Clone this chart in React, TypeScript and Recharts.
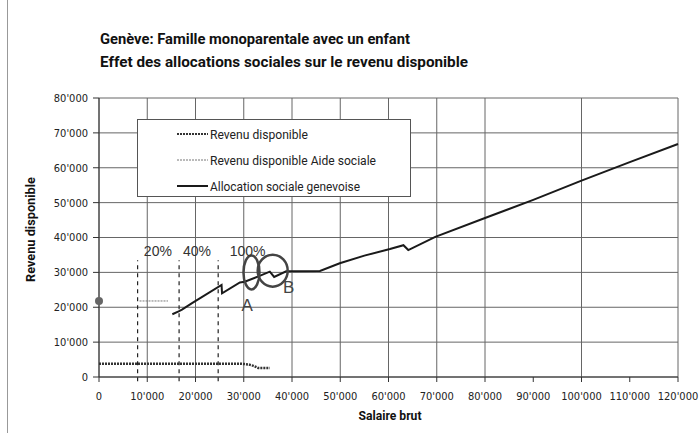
import React from "react";
import {
  LineChart,
  Line,
  XAxis,
  YAxis,
  CartesianGrid,
  ReferenceLine,
  ReferenceDot,
} from "recharts";

// Revenu disponible (salaire brut -> revenu)
const revenuSalaire = [
  15200, 16500, 17200, 19200, 25400, 25500, 29200, 30200, 33300, 35400, 36300,
  38800, 45800, 49900, 55000, 60300, 63100, 64100, 69700, 80000, 90000, 100000,
  110000, 120000,
];
const revenu = [
  18000, 18800, 19300, 21100, 26400, 24000, 27100, 27300, 29000, 30200, 28700,
  30300, 30400, 32600, 34800, 36700, 37800, 36400, 40200, 45600, 50800, 56300,
  61600, 66800,
];

// Revenu disponible Aide sociale
const aideSalaire = [8400, 14300];
const aide = [21800, 21800];
const aidePoint = { x: 0, y: 21800 };

// Allocation sociale genevoise
const allocSalaire = [0, 29500, 31000, 32000, 33000, 35400];
const alloc = [3800, 3800, 3600, 3200, 2600, 2600];

// seuils (lignes pointillees) et libelles
const seuils = [8000, 16600, 24700];
const seuilTop = 33500;
const pourcents = [
  { x: 12200, y: 34700, text: "20%" },
  { x: 20300, y: 34700, text: "40%" },
  { x: 30800, y: 34700, text: "100%" },
];
const marques = [
  { x: 30700, y: 18800, text: "A" },
  { x: 39300, y: 24000, text: "B" },
];

const xTicks = [0, 10000, 20000, 30000, 40000, 50000, 60000, 70000, 80000, 90000, 100000, 110000, 120000];
const yTicks = [0, 10000, 20000, 30000, 40000, 50000, 60000, 70000, 80000];

const toData = (xs: number[], ys: number[]) => xs.map((x, i) => ({ x, y: ys[i] }));

const fmt = (n: number) => String(n).replace(/\B(?=(\d{3})+(?!\d))/g, "'");

const tickFont = { fontSize: 11, fontFamily: "'DejaVu Sans Condensed', 'DejaVu Sans', sans-serif", fill: "#222" };

export default function App() {
  const revenuData = toData(revenuSalaire, revenu);
  const aideData = toData(aideSalaire, aide);
  const allocData = toData(allocSalaire, alloc);

  return (
    <div style={{ position: "absolute", left: 0, top: 0, width: 699, height: 433, background: "#fff" }}>
      <div style={{ position: "absolute", left: 7, top: 0, width: 1, height: 433, background: "#999" }} />
      <LineChart
        width={699}
        height={433}
        margin={{ top: 98, right: 21, bottom: 0, left: 0 }}
      >
        <CartesianGrid stroke="#666" strokeWidth={1} />
        <XAxis
          dataKey="x"
          type="number"
          domain={[0, 120000]}
          ticks={xTicks}
          tickFormatter={fmt}
          height={56}
          tickSize={5}
          tickMargin={10}
          tick={tickFont}
          axisLine={{ stroke: "#333" }}
          tickLine={{ stroke: "#333" }}
          allowDuplicatedCategory={false}
        />
        <YAxis
          dataKey="y"
          type="number"
          domain={[0, 80000]}
          ticks={yTicks}
          tickFormatter={fmt}
          width={99}
          tickSize={6}
          tickMargin={5}
          tick={tickFont}
          axisLine={{ stroke: "#333" }}
          tickLine={{ stroke: "#333" }}
        />
        {seuils.map((s) => (
          <ReferenceLine
            key={s}
            segment={[{ x: s, y: -1200 }, { x: s, y: seuilTop }]}
            stroke="#222"
            strokeWidth={1.2}
            strokeDasharray="4 4"
            ifOverflow="visible"
          />
        ))}
        <Line
          data={allocData}
          dataKey="y"
          stroke="#333"
          strokeWidth={2.5}
          strokeDasharray="2 1"
          dot={false}
          isAnimationActive={false}
        />
        <Line
          data={aideData}
          dataKey="y"
          stroke="#777"
          strokeWidth={1}
          strokeDasharray="2 1"
          dot={false}
          isAnimationActive={false}
        />
        <Line
          data={revenuData}
          dataKey="y"
          stroke="#1a1a1a"
          strokeWidth={2}
          dot={false}
          isAnimationActive={false}
        />
        <ReferenceDot x={aidePoint.x} y={aidePoint.y} r={4} fill="#666" stroke="none" ifOverflow="visible" />
        <ReferenceDot
          x={31600}
          y={30000}
          ifOverflow="visible"
          shape={(p: any) => (
            <ellipse cx={p.cx} cy={p.cy} rx={8} ry={17} fill="none" stroke="#444" strokeWidth={2.5} />
          )}
        />
        <ReferenceDot
          x={36000}
          y={30500}
          ifOverflow="visible"
          shape={(p: any) => (
            <ellipse cx={p.cx} cy={p.cy} rx={15} ry={16} fill="none" stroke="#444" strokeWidth={2.5} />
          )}
        />
        {pourcents.map((l) => (
          <ReferenceDot
            key={l.text}
            x={l.x}
            y={l.y}
            ifOverflow="visible"
            shape={(p: any) => (
              <text x={p.cx} y={p.cy} textAnchor="middle" fontSize={14} fontFamily="'Liberation Sans', Arial, sans-serif" fill="#333">
                {l.text}
              </text>
            )}
          />
        ))}
        {marques.map((l) => (
          <ReferenceDot
            key={l.text}
            x={l.x}
            y={l.y}
            ifOverflow="visible"
            shape={(p: any) => (
              <text x={p.cx} y={p.cy} textAnchor="middle" fontSize={17} fontFamily="'Liberation Sans', Arial, sans-serif" fill="#444">
                {l.text}
              </text>
            )}
          />
        ))}
      </LineChart>

      <svg
        width={699}
        height={433}
        style={{ position: "absolute", left: 0, top: 0, pointerEvents: "none" }}
      >
        <g fontFamily="Roboto, sans-serif" fontWeight={700} fill="#111">
          <text x={100} y={43.5} fontSize={14} textLength={310} lengthAdjust="spacingAndGlyphs">
            Genève: Famille monoparentale avec un enfant
          </text>
          <text x={100} y={67} fontSize={14} textLength={368} lengthAdjust="spacingAndGlyphs">
            Effet des allocations sociales sur le revenu disponible
          </text>
          <text
            x={35}
            y={229.5}
            fontSize={12}
            textAnchor="middle"
            transform="rotate(-90, 35, 229.5)"
            textLength={105}
            lengthAdjust="spacingAndGlyphs"
          >
            Revenu disponible
          </text>
          <text x={390} y={420} fontSize={12} textAnchor="middle" textLength={63} lengthAdjust="spacingAndGlyphs">
            Salaire brut
          </text>
        </g>
        <g>
          <rect x={137.5} y={119.5} width={273} height={77} fill="#fff" stroke="#555" strokeWidth={1} />
          <line x1={177} x2={208} y1={134} y2={134} stroke="#333" strokeWidth={2} strokeDasharray="2 1" />
          <line x1={177} x2={208} y1={160} y2={160} stroke="#777" strokeWidth={1} strokeDasharray="2 1" />
          <line x1={177} x2={208} y1={186} y2={186} stroke="#1a1a1a" strokeWidth={2} />
          <g fontFamily="Roboto, sans-serif" fontSize={12} fill="#222">
            <text x={210} y={138.5} textLength={98} lengthAdjust="spacingAndGlyphs">Revenu disponible</text>
            <text x={210} y={164.5} textLength={166} lengthAdjust="spacingAndGlyphs">Revenu disponible Aide sociale</text>
            <text x={210} y={190.5} textLength={150} lengthAdjust="spacingAndGlyphs">Allocation sociale genevoise</text>
          </g>
        </g>
      </svg>
    </div>
  );
}
